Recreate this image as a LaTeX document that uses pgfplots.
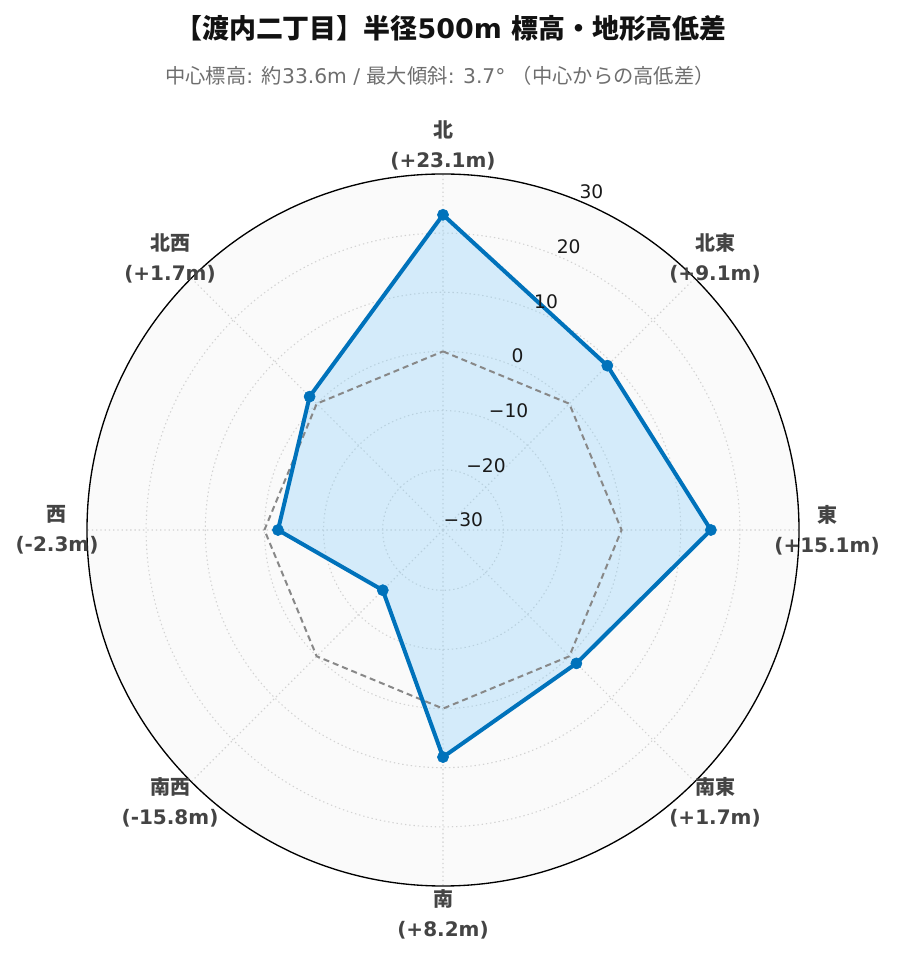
\documentclass[border=0pt]{standalone}
\usepackage{fontspec}
\setmainfont{DejaVu Sans}
\newfontfamily\cjk{Noto Sans CJK JP}
\usepackage{pgfplots}
\pgfplotsset{compat=1.18}
\usepgfplotslibrary{polar}
\usepackage{pgfplotstable}
\definecolor{linec}{RGB}{0,114,187}
\definecolor{fillc}{RGB}{135,206,250}
\definecolor{bgc}{RGB}{250,250,250}
\definecolor{refc}{RGB}{136,136,136}
\definecolor{gridc}{RGB}{210,210,210}
\definecolor{labelc}{RGB}{68,68,68}
\definecolor{subc}{RGB}{110,110,110}

% angle (deg, 0 = east, counter-clockwise), height difference (m)
\pgfplotstableread{
ang val
90 23.1
45 9.1
0 15.1
-45 1.7
-90 8.2
-135 -15.8
180 -2.3
135 1.7
}\dirdata
\pgfplotstableread{
ang val
90 0
45 0
0 0
-45 0
-90 0
-135 0
180 0
135 0
}\refdata

\begin{document}
\begin{tikzpicture}
\useasboundingbox (0,0) rectangle (672pt,721.5pt);
\fill[bgc] (332.25pt,324pt) circle (267pt);
\begin{polaraxis}[
  at={(332.25pt,324pt)}, anchor=center,
  scale only axis, width=534pt, height=534pt,
  xmin=0, xmax=360, ymin=0, ymax=60.2,
  xtick={0,45,...,315},
  ytick={0.2,10.2,20.2,30.2,40.2,50.2},
  xticklabels={}, yticklabels={},
  major tick length=0pt,
  grid=major,
  major grid style={draw=gridc, line width=0.8pt, dash pattern=on 1pt off 2.2pt},
  x axis line style={black, line width=1pt},
  y axis line style={draw=none},
  clip=false,
]
\addplot[fill=fillc, fill opacity=0.33, draw=none, no markers]
  table[x=ang, y expr=\thisrow{val}+30.2] {\dirdata} -- cycle;
\addplot[draw=refc, line width=1.5pt, dash pattern=on 4.5pt off 3pt, no markers]
  table[x=ang, y expr=\thisrow{val}+30.2] {\refdata} -- cycle;
\addplot[draw=linec, line width=3pt, line join=round, mark=*, mark size=4.2pt, mark options={solid, fill=linec, draw=linec, line width=0.4pt}]
  table[x=ang, y expr=\thisrow{val}+30.2] {\dirdata} -- cycle;
\foreach \v/\t in {0.2/−30,10.2/−20,20.2/−10,30.2/0,40.2/10,50.2/20,60.2/30}{
  \edef\tmp{\noexpand\node[anchor=west, yshift=6.75pt, inner sep=0pt, font=\noexpand\fontsize{14}{16}\noexpand\selectfont, text=black!90] at (axis cs:67.5,\v) {\t};}
  \tmp
}
\end{polaraxis}
\begin{scope}[shift={(0pt,721.5pt)}, x=0.75pt, y=-0.75pt]
\node[font=\bfseries\fontsize{20.2}{24}\selectfont, text=black!93] at (451,28) {{\cjk 【渡内二丁目】半径}500m {\cjk 標高・地形高低差}};
\node[font=\fontsize{15.2}{18}\selectfont, text=subc] at (440,76) {{\cjk 中心標高}: {\cjk 約}33.6m / {\cjk 最大傾斜}: 3.7° {\cjk （中心からの高低差）}};
\tikzset{lab/.style={align=center, text=labelc, font=\bfseries\fontsize{15}{22.5}\selectfont}}
\node[lab] at (443,145) {{\cjk 北}\\(+23.1m)};
\node[lab] at (715,258) {{\cjk 北東}\\(+9.1m)};
\node[lab] at (827,530) {{\cjk 東}\\(+15.1m)};
\node[lab] at (715,802) {{\cjk 南東}\\(+1.7m)};
\node[lab] at (443,914) {{\cjk 南}\\(+8.2m)};
\node[lab] at (170,802) {{\cjk 南西}\\(-15.8m)};
\node[lab] at (57,530) {{\cjk 西}\\(-2.3m)};
\node[lab] at (170,258) {{\cjk 北西}\\(+1.7m)};
\end{scope}
\end{tikzpicture}
\end{document}
